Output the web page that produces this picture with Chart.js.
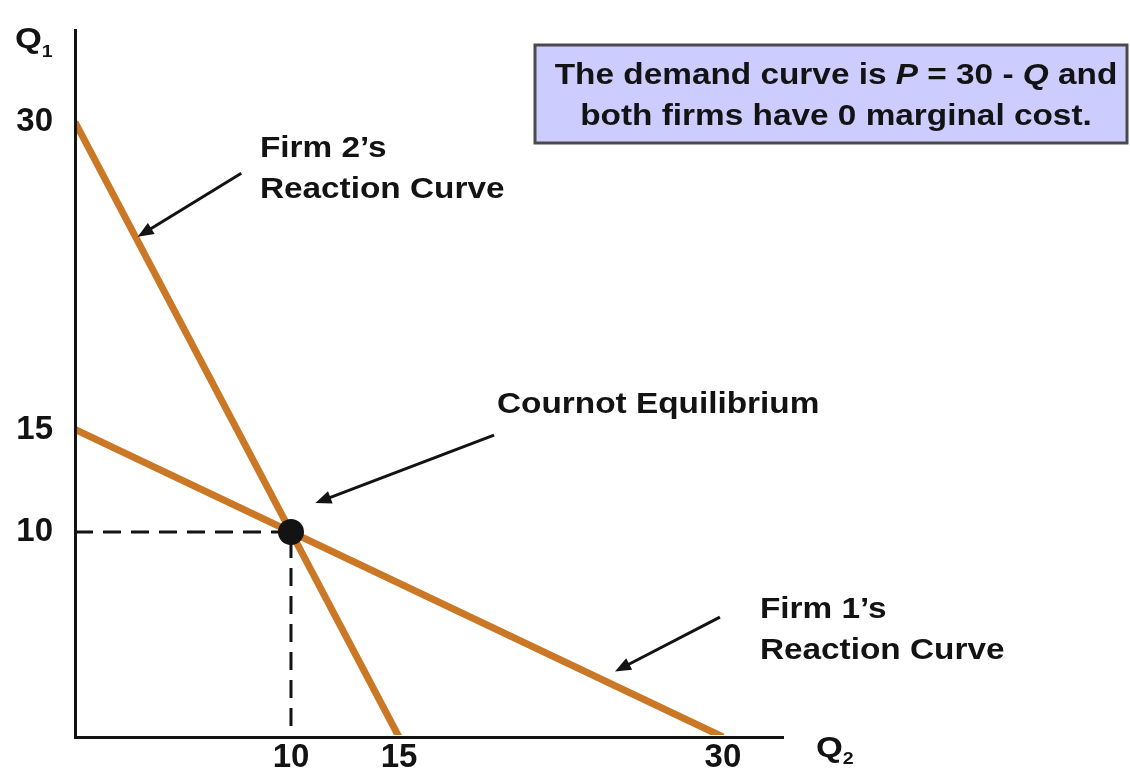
<!DOCTYPE html>
<html>
<head>
<meta charset="utf-8">
<title>Cournot Equilibrium</title>
<script src="https://cdn.jsdelivr.net/npm/chart.js@4.4.0/dist/chart.umd.min.js"></script>
<style>
  html, body { margin: 0; padding: 0; background: #fff; }
</style>
</head>
<body>
<canvas id="cournotChart" width="1130" height="772"></canvas>
<script>
// Cournot duopoly: P = 30 - Q, both firms with zero marginal cost.
// Reaction curves in (Q2, Q1) space.
const firm2Curve = [{ x: 0, y: 30 }, { x: 15, y: 0 }];   // Q1 = 30 - 2*Q2
const firm1Curve = [{ x: 0, y: 15 }, { x: 30, y: 0 }];   // Q1 = 15 - Q2/2
const equilibrium = [{ x: 10, y: 10 }];
const guideLines = [{ x: 0, y: 10 }, { x: 10, y: 10 }, { x: 10, y: 0 }];

const xTickValues = [10, 15, 30];
const yTickValues = [10, 15, 30];

// callouts, in (Q2, Q1) units
const calloutLabels = [
  { x: 8.56, y: 28.29, lines: ["Firm 2’s", "Reaction Curve"] },
  { x: 19.54, y: 15.8, lines: ["Cournot Equilibrium"] },
  { x: 31.71, y: 5.8, lines: ["Firm 1’s", "Reaction Curve"] },
];
const calloutArrows = [
  { from: [7.7, 27.5], to: [2.9, 24.4] },
  { from: [19.4, 14.73], to: [11.13, 11.41] },
  { from: [29.86, 5.85], to: [25.0, 3.2] },
];

// note box text; [text, italic]
const noteLines = [
  [["The demand curve is ", false], ["P", true], [" = 30 - ", false], ["Q", true], [" and", false]],
  [["both firms have 0 marginal cost.", false]],
];

const ORANGE = "#CA7825";
const INK = "#131313";
const FONT = "'Liberation Sans', Arial, Helvetica, sans-serif";
const STRETCH = 1.15;   // the slide text is a bit wider than plain Arial

function runFont(italic, size) {
  return (italic ? "italic " : "") + "bold " + size + "px " + FONT;
}

// draws one run of text stretched horizontally, returns its width
function drawRun(ctx, text, x, y, font) {
  ctx.save();
  ctx.font = font;
  const w = ctx.measureText(text).width * STRETCH;
  ctx.translate(x, y);
  ctx.scale(STRETCH, 1);
  ctx.textAlign = "left";
  ctx.textBaseline = "alphabetic";
  ctx.fillText(text, 0, 0);
  ctx.restore();
  return w;
}

function runWidth(ctx, text, font) {
  ctx.save();
  ctx.font = font;
  const w = ctx.measureText(text).width * STRETCH;
  ctx.restore();
  return w;
}

function drawArrow(ctx, x1, y1, x2, y2) {
  const ang = Math.atan2(y2 - y1, x2 - x1);
  const head = 16, half = 6.5;
  ctx.save();
  ctx.strokeStyle = INK;
  ctx.fillStyle = INK;
  ctx.lineWidth = 3;
  ctx.beginPath();
  ctx.moveTo(x1, y1);
  ctx.lineTo(x2 - Math.cos(ang) * (head - 2), y2 - Math.sin(ang) * (head - 2));
  ctx.stroke();
  ctx.beginPath();
  ctx.moveTo(x2, y2);
  ctx.lineTo(x2 - head * Math.cos(ang) + half * Math.sin(ang), y2 - head * Math.sin(ang) - half * Math.cos(ang));
  ctx.lineTo(x2 - head * Math.cos(ang) - half * Math.sin(ang), y2 - head * Math.sin(ang) + half * Math.cos(ang));
  ctx.closePath();
  ctx.fill();
  ctx.restore();
}

const calloutPlugin = {
  id: "callouts",
  afterDatasetsDraw(chart) {
    const { ctx, scales: { x, y } } = chart;

    calloutArrows.forEach(a => {
      drawArrow(ctx,
        x.getPixelForValue(a.from[0]), y.getPixelForValue(a.from[1]),
        x.getPixelForValue(a.to[0]), y.getPixelForValue(a.to[1]));
    });

    ctx.fillStyle = INK;
    calloutLabels.forEach(l => {
      const px = x.getPixelForValue(l.x);
      const py = y.getPixelForValue(l.y);
      l.lines.forEach((line, i) => drawRun(ctx, line, px, py + i * 40.5, runFont(false, 29)));
    });
  },
  afterDraw(chart) {
    const { ctx, chartArea } = chart;

    // note box, top right
    ctx.save();
    ctx.fillStyle = "#CCCCFF";
    ctx.fillRect(535, 45, 592, 98);
    ctx.strokeStyle = "#4A4A4A";
    ctx.lineWidth = 3;
    ctx.strokeRect(535, 45, 592, 98);
    ctx.restore();

    ctx.fillStyle = INK;
    const baselines = [84, 125];
    noteLines.forEach((runs, i) => {
      const total = runs.reduce((s, r) => s + runWidth(ctx, r[0], runFont(r[1], 29)), 0);
      let cx = 836 - total / 2;
      runs.forEach(r => { cx += drawRun(ctx, r[0], cx, baselines[i], runFont(r[1], 29)); });
    });

    // axis titles Q1 / Q2 with subscripts
    ctx.fillStyle = INK;
    const q1w = drawRun(ctx, "Q", chartArea.left - 60, chartArea.top + 18, runFont(false, 30));
    drawRun(ctx, "1", chartArea.left - 60 + q1w, chartArea.top + 27, runFont(false, 17));
    const q2w = drawRun(ctx, "Q", chartArea.right + 33, chartArea.bottom + 20, runFont(false, 30));
    drawRun(ctx, "2", chartArea.right + 33 + q2w, chartArea.bottom + 27, runFont(false, 17));
  },
};

const tickFont = { family: FONT, size: 33, weight: "bold" };

new Chart(document.getElementById("cournotChart"), {
  type: "line",
  data: {
    datasets: [
      {
        label: "Cournot equilibrium",
        data: equilibrium,
        showLine: false,
        pointRadius: 13,
        pointBackgroundColor: INK,
        pointBorderWidth: 0,
        clip: false,
      },
      {
        label: "Firm 2's reaction curve",
        data: firm2Curve,
        borderColor: ORANGE,
        borderWidth: 7,
        pointRadius: 0,
        clip: { left: -2, top: 20, right: 20, bottom: -2 },
      },
      {
        label: "Firm 1's reaction curve",
        data: firm1Curve,
        borderColor: ORANGE,
        borderWidth: 7,
        pointRadius: 0,
        clip: { left: -2, top: 20, right: 20, bottom: -2 },
      },
      {
        label: "guides",
        data: guideLines,
        borderColor: INK,
        borderWidth: 3,
        borderDash: [18, 10],
        pointRadius: 0,
        clip: { left: -2, top: 20, right: 20, bottom: -2 },
      },
    ],
  },
  options: {
    responsive: false,
    animation: false,
    devicePixelRatio: 1,
    layout: { padding: { top: 30, right: 347, left: 0, bottom: 0 } },
    plugins: { legend: { display: false }, tooltip: { enabled: false } },
    scales: {
      x: {
        type: "linear",
        min: 0,
        max: 32.78,
        grid: { display: false, drawTicks: false },
        border: { display: true, color: INK, width: 3 },
        ticks: { autoSkip: false, padding: 1, color: INK, font: tickFont },
        afterBuildTicks: s => { s.ticks = xTickValues.map(v => ({ value: v })); },
        afterFit: s => { s.height = 35; s.paddingLeft = 0; s.paddingRight = 0; },
      },
      y: {
        type: "linear",
        min: 0,
        max: 34.49,
        grid: { display: false, drawTicks: false },
        border: { display: true, color: INK, width: 3 },
        ticks: { autoSkip: false, padding: 22, color: INK, font: tickFont },
        afterBuildTicks: s => { s.ticks = yTickValues.map(v => ({ value: v })); },
        afterFit: s => { s.width = 75; s.paddingTop = 0; s.paddingBottom = 0; },
      },
    },
  },
  plugins: [calloutPlugin],
});
</script>
</body>
</html>
